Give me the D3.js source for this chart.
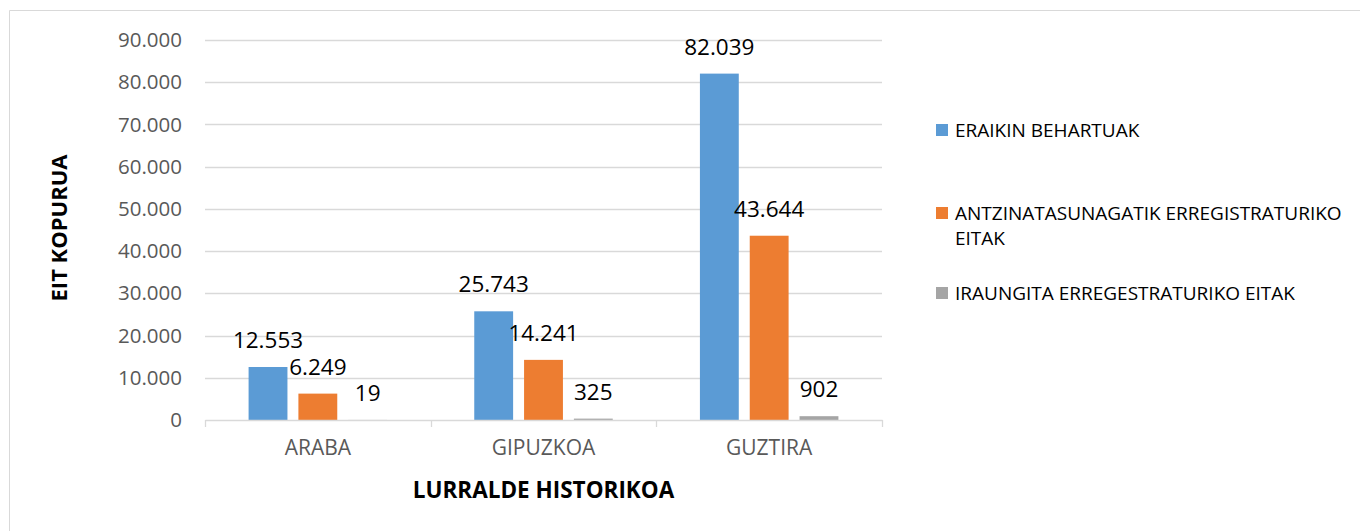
<!DOCTYPE html>
<html>
<head>
<meta charset="utf-8">
<script src="https://d3js.org/d3.v7.min.js"></script>
<style>
  body { margin: 0; background: #fff; }
  svg { display: block; font-family: "Open Sans", sans-serif; }
</style>
</head>
<body>
<div id="chart"></div>
<script>
// Data
var categories = ["ARABA", "GIPUZKOA", "GUZTIRA"];
var seriesNames = ["ERAIKIN BEHARTUAK", "ANTZINATASUNAGATIK ERREGISTRATURIKO EITAK", "IRAUNGITA ERREGESTRATURIKO EITAK"];
var eraikinBehartuak = [12553, 25743, 82039];
var antzinatasunagatik = [6249, 14241, 43644];
var iraungita = [19, 325, 902];
var yTicks = [0, 10000, 20000, 30000, 40000, 50000, 60000, 70000, 80000, 90000];

var seriesValues = [eraikinBehartuak, antzinatasunagatik, iraungita];
var colors = ["#5B9BD5", "#ED7D31", "#A5A5A5"];

// Size constants
var totWidth = 1360,
    totHeight = 531;
var plot = {left: 205, right: 882, top: 40, bottom: 420};

var svg = d3.select("#chart")
  .append("svg")
    .attr("width", totWidth)
    .attr("height", totHeight);

// chart frame (only top and left edges visible)
svg.append("path")
  .attr("d", "M9.5," + totHeight + "V10.5H" + totWidth)
  .attr("fill", "none")
  .attr("stroke", "#D9D9D9")
  .attr("stroke-width", 1);

var x = d3.scaleBand()
  .domain(categories)
  .range([plot.left, plot.right])
  .paddingInner(0)
  .paddingOuter(0);

var xInner = d3.scaleBand()
  .domain(d3.range(seriesNames.length))
  .range([0, x.bandwidth()])
  .paddingInner(0.22)
  .paddingOuter(0.875);

var y = d3.scaleLinear()
  .domain([0, 90000])
  .range([plot.bottom, plot.top]);

var fmt = function(v) {
  return d3.format(",")(v).replace(/,/g, ".");
};

// gridlines
svg.append("g")
  .selectAll("line")
  .data(yTicks.slice(1))
  .enter()
  .append("line")
    .attr("x1", plot.left)
    .attr("x2", plot.right)
    .attr("y1", function(d) { return Math.round(y(d)) + 0.5; })
    .attr("y2", function(d) { return Math.round(y(d)) + 0.5; })
    .attr("stroke", "#D9D9D9")
    .attr("stroke-width", 1.3);

// Y axis labels
var yAxis = svg.append("g")
  .attr("transform", "translate(" + plot.left + ",0)")
  .call(d3.axisLeft(y)
    .tickValues(yTicks)
    .tickSize(0)
    .tickPadding(23)
    .tickFormat(fmt));
yAxis.select(".domain").remove();
yAxis.selectAll("text")
  .attr("font-family", "Open Sans, sans-serif")
  .attr("font-size", "20.5px")
  .attr("fill", "#595959");

// bars
var groups = svg.append("g")
  .selectAll("g")
  .data(seriesValues)
  .enter()
  .append("g")
    .attr("fill", function(d, i) { return colors[i]; });

groups.each(function(vals, si) {
  var g = d3.select(this);
  g.selectAll("rect")
    .data(vals)
    .enter()
    .append("rect")
      .attr("x", function(d, ci) { return x(categories[ci]) + xInner(si); })
      .attr("width", xInner.bandwidth())
      .attr("y", function(d) { return y(d); })
      .attr("height", function(d) { return plot.bottom - y(d); });

  g.selectAll("text")
    .data(vals)
    .enter()
    .append("text")
      .attr("x", function(d, ci) { return x(categories[ci]) + xInner(si) + xInner.bandwidth() / 2; })
      .attr("y", function(d) { return y(d) - 19; })
      .attr("text-anchor", "middle")
      .attr("font-size", "22.5px")
      .attr("fill", "#000")
      .text(fmt);
});

// X axis
var xAxis = svg.append("g")
  .attr("transform", "translate(0," + plot.bottom + ")")
  .call(d3.axisBottom(x).tickSize(0).tickPadding(20));
xAxis.select(".domain")
  .attr("stroke", "#D9D9D9")
  .attr("stroke-width", 1.3);
xAxis.selectAll(".tick text")
  .attr("font-family", "Open Sans, sans-serif")
  .attr("font-size", "21px")
  .attr("fill", "#595959");

// category separator ticks
svg.append("g")
  .selectAll("line")
  .data(categories.concat(["end"]))
  .enter()
  .append("line")
    .attr("x1", function(d, i) { return Math.round(i < categories.length ? x(d) : plot.right) + 0.5; })
    .attr("x2", function(d, i) { return Math.round(i < categories.length ? x(d) : plot.right) + 0.5; })
    .attr("y1", plot.bottom)
    .attr("y2", plot.bottom + 7)
    .attr("stroke", "#D9D9D9")
    .attr("stroke-width", 1.3);

// axis titles
svg.append("text")
  .attr("x", (plot.left + plot.right) / 2)
  .attr("y", 498)
  .attr("text-anchor", "middle")
  .attr("font-size", "22.5px")
  .attr("font-weight", "bold")
  .attr("fill", "#000")
  .text("LURRALDE HISTORIKOA");

svg.append("text")
  .attr("transform", "translate(67,228) rotate(-90)")
  .attr("text-anchor", "middle")
  .attr("font-size", "22px")
  .attr("font-weight", "bold")
  .attr("fill", "#000")
  .text("EIT KOPURUA");

// legend
var legendY = [130, 213, 293];
var legendLines = [["ERAIKIN BEHARTUAK"], ["ANTZINATASUNAGATIK ERREGISTRATURIKO", "EITAK"], ["IRAUNGITA ERREGESTRATURIKO EITAK"]];

var legend = svg.append("g")
  .selectAll("g")
  .data(seriesNames)
  .enter()
  .append("g")
    .attr("transform", function(d, i) { return "translate(936," + legendY[i] + ")"; });

legend.append("rect")
  .attr("x", 0)
  .attr("y", -6)
  .attr("width", 12)
  .attr("height", 12)
  .attr("fill", function(d, i) { return colors[i]; });

legend.each(function(d, i) {
  var t = d3.select(this).append("text")
    .attr("x", 19)
    .attr("y", 7)
    .attr("font-size", "19px")
    .attr("fill", "#000");
  legendLines[i].forEach(function(line, li) {
    t.append("tspan")
      .attr("x", 19)
      .attr("dy", li === 0 ? 0 : 25)
      .text(line);
  });
});
</script>
</body>
</html>
